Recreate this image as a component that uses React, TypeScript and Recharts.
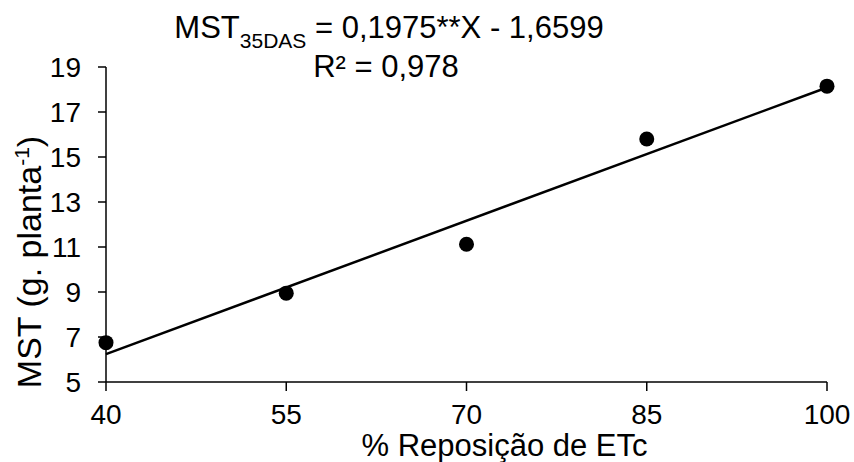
import { ScatterChart, Scatter, XAxis, YAxis, Label } from "recharts";

// % reposição de ETc
const reposicao = [40, 55, 70, 85, 100];
// MST aos 35 DAS (g planta-1)
const mst = [6.75, 8.95, 11.12, 15.8, 18.15];
// reta ajustada: MST = 0,1975X - 1,6599 (extremos)
const retaX = [40, 100];
const retaY = [6.24, 18.09];

const xTicks = [40, 55, 70, 85, 100];
const yTicks = [5, 7, 9, 11, 13, 15, 17, 19];

const pontos = reposicao.map((x, i) => ({ x, y: mst[i] }));
const reta = retaX.map((x, i) => ({ x, y: retaY[i] }));

const fonte = "Liberation Sans, Arial, sans-serif";

const Ponto = (props: any) => <circle cx={props.cx} cy={props.cy} r={7.5} fill="#000" />;
const Nada = () => <g />;

const TituloY = () => (
  <text
    transform="translate(41,262) rotate(-90)"
    textAnchor="middle"
    fontFamily={fonte}
    fontSize={34}
    fill="#000"
  >
    MST (g. planta
    <tspan dy={-12} fontSize={21}>-1</tspan>
    <tspan dy={12}>)</tspan>
  </text>
);

export default function App() {
  return (
    <div style={{ position: "absolute", left: 0, top: 0, width: 854, height: 462, background: "#fff" }}>
      <ScatterChart
        width={854}
        height={462}
        margin={{ top: 67, right: 27, left: 0, bottom: 0 }}
        style={{ fontFamily: fonte }}
      >
        <XAxis
          type="number"
          dataKey="x"
          domain={[40, 100]}
          ticks={xTicks}
          height={80}
          tickSize={9}
          tickMargin={13}
          axisLine={{ stroke: "#000", strokeWidth: 1.5 }}
          tickLine={{ stroke: "#000", strokeWidth: 1.5 }}
          tick={{ fill: "#000", fontSize: 28, fontFamily: fonte }}
        >
          <Label
            value="% Reposição de ETc"
            position="insideBottom"
            offset={6}
            dx={38}
            fill="#000"
            fontSize={31}
            fontFamily={fonte}
          />
        </XAxis>
        <YAxis
          type="number"
          dataKey="y"
          domain={[5, 19]}
          ticks={yTicks}
          width={106}
          tickSize={8}
          tickMargin={17}
          axisLine={{ stroke: "#000", strokeWidth: 1.5 }}
          tickLine={{ stroke: "#000", strokeWidth: 1.5 }}
          tick={{ fill: "#000", fontSize: 28, fontFamily: fonte }}
        >
          <Label content={<TituloY />} />
        </YAxis>
        <Scatter
          data={reta}
          line={{ stroke: "#000", strokeWidth: 2.5 }}
          shape={<Nada />}
          isAnimationActive={false}
        />
        <Scatter data={pontos} fill="#000" shape={<Ponto />} isAnimationActive={false} />
      </ScatterChart>
      <svg
        width={854}
        height={90}
        style={{ position: "absolute", left: 0, top: 0, pointerEvents: "none" }}
      >
        <text x={389} y={38} textAnchor="middle" fontFamily={fonte} fontSize={31} fill="#000">
          MST
          <tspan dy={10} fontSize={21}>35DAS</tspan>
          <tspan dy={-10}> = 0,1975**X - 1,6599</tspan>
        </text>
        <text x={386} y={77} textAnchor="middle" fontFamily={fonte} fontSize={31} fill="#000">
          R² = 0,978
        </text>
      </svg>
    </div>
  );
}
